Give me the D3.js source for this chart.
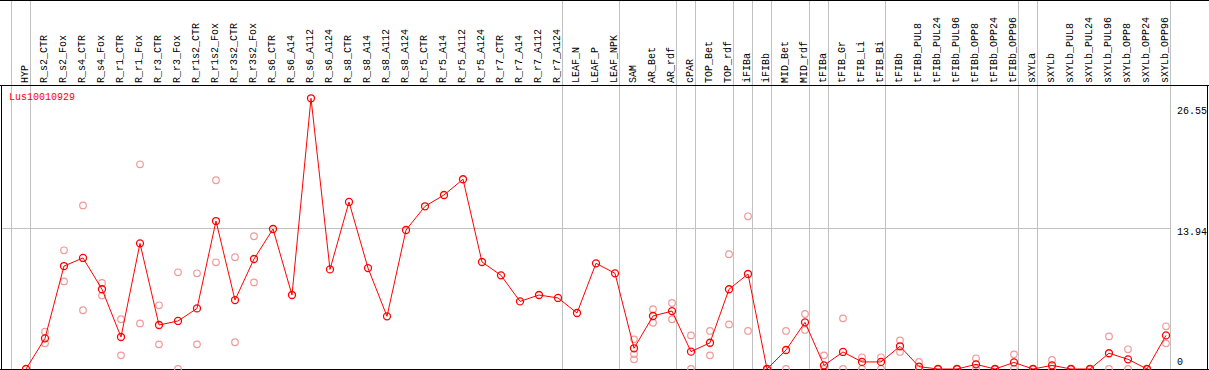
<!DOCTYPE html>
<html>
<head>
<meta charset="utf-8">
<script src="https://cdn.jsdelivr.net/npm/d3@7"></script>
<style>
  body { margin: 0; background: #fff; }
  svg { display: block; }
</style>
</head>
<body>
<div id="chart-area"></div>
<script>
const geneName = "Lus10010929";

const categories = ["HYP",
  "R_s2_CTR", "R_s2_Fox", "R_s4_CTR", "R_s4_Fox", "R_r1_CTR", "R_r1_Fox", "R_r3_CTR", "R_r3_Fox",
  "R_r1s2_CTR", "R_r1s2_Fox", "R_r3s2_CTR", "R_r3s2_Fox",
  "R_s6_CTR", "R_s6_A14", "R_s6_A112", "R_s6_A124", "R_s8_CTR", "R_s8_A14", "R_s8_A112", "R_s8_A124",
  "R_r5_CTR", "R_r5_A14", "R_r5_A112", "R_r5_A124", "R_r7_CTR", "R_r7_A14", "R_r7_A112", "R_r7_A124",
  "LEAF_N", "LEAF_P", "LEAF_NPK", "SAM", "AR_Bet", "AR_rdf", "cPAR", "TOP_Bet", "TOP_rdf",
  "iFIBa", "iFIBb", "MID_Bet", "MID_rdf", "tFIBa", "tFIB_Gr", "tFIB_Li", "tFIB_Bi",
  "tFIBb", "tFIBb_PUL8", "tFIBb_PUL24", "tFIBb_PUL96", "tFIBb_OPP8", "tFIBb_OPP24", "tFIBb_OPP96",
  "sXYLa", "sXYLb", "sXYLb_PUL8", "sXYLb_PUL24", "sXYLb_PUL96", "sXYLb_OPP8", "sXYLb_OPP24", "sXYLb_OPP96"];

// last column of each group (gray separator drawn after it)
const groupEnds = ["HYP", "R_r7_A124", "LEAF_NPK", "AR_rdf", "cPAR", "TOP_rdf", "iFIBa", "iFIBb",
  "MID_rdf", "tFIBa", "tFIB_Bi", "tFIBb_OPP96", "sXYLa", "sXYLb_OPP96"];

// mean values
const means = [0,
  3.04, 10.2, 11.0, 7.9, 3.17, 12.45, 4.36, 4.76,
  6.0, 14.66, 6.83, 10.9,
  13.87, 7.33, 26.82, 9.87, 16.55, 10.0, 5.22, 13.77,
  16.12, 17.24, 18.8, 10.6, 9.28, 6.7, 7.33, 7.04,
  5.55, 10.47, 9.48, 2.05, 5.25, 5.74, 1.72, 2.6, 7.9,
  9.41, 0, 1.88, 4.62, 0.36, 1.69, 0.7, 0.7,
  2.25, 0.23, 0, 0, 0.46, 0, 0.65,
  0, 0.36, 0, 0, 1.56, 0.96, 0, 3.33];

// individual replicates
const replicates = [[],
  [3.7, 2.54], [11.76, 8.68], [16.21, 5.82], [8.52, 7.27], [4.93, 1.35], [20.28, 4.52], [6.31, 2.44], [9.58, 0],
  [9.48, 2.44], [18.7, 10.57], [11.07, 2.65], [13.15, 8.58],
  [], [], [], [], [], [], [], [],
  [], [], [], [], [], [], [], [],
  [], [], [], [2.94, 1.48, 0.96], [5.92, 4.58], [6.54, 4.93], [3.33, 0], [3.77, 1.35], [11.37, 4.42],
  [15.13, 3.77], [0, 0], [3.77, 0], [5.45, 3.87], [1.35, 0], [5.02, 0], [1.16, 0], [1.16, 0],
  [2.84, 1.69], [0.7, 0], [0, 0], [0, 0], [1.06, 0], [0, 0], [1.45, 0],
  [0, 0], [0.89, 0], [0, 0], [0, 0], [3.23, 0], [1.95, 0], [0, 0], [4.23, 2.54]];

const tickValues = [0, 13.94, 26.55];
const tickLabels = ["0", "13.94", "26.55"];
const tickDy = [-4, 7, 13];

const W = 1209, H = 370;
const headerH = 85, bottom = 369, plotRight = 1170, frameRight = 1207;

const svg = d3.select("#chart-area").append("svg")
    .attr("width", W)
    .attr("height", H)
    .style("font-family", "'Liberation Mono', 'DejaVu Sans Mono', monospace")
    .style("font-size", "10px");

const x = d3.scalePoint()
    .domain(categories)
    .range([26, 1166]);

const step = x.step();

const y = d3.scaleLinear()
    .domain([0, 13.94])
    .range([bottom, 228.3]);

// gray grid
const grid = svg.append("g")
    .attr("stroke", "#c0c0c0")
    .attr("stroke-width", 1)
    .attr("shape-rendering", "crispEdges");

const sepX = [x(categories[0]) - step + 4].concat(groupEnds.map(c => x(c) + 4));

grid.selectAll("line.sep")
    .data(sepX).enter()
    .append("line")
        .attr("class", "sep")
        .attr("x1", d => Math.round(d) + 0.5)
        .attr("x2", d => Math.round(d) + 0.5)
        .attr("y1", 0)
        .attr("y2", bottom);

grid.append("line")
    .attr("x1", 1)
    .attr("x2", plotRight)
    .attr("y1", Math.round(y(13.94)) + 0.5)
    .attr("y2", Math.round(y(13.94)) + 0.5);

// column labels
svg.append("g").selectAll("text")
    .data(categories).enter()
    .append("text")
        .attr("transform", d => `translate(${x(d) + 2},83) rotate(-90)`)
        .attr("fill", "#000")
        .text(d => d);

// frame
const frame = svg.append("g")
    .attr("stroke", "#000")
    .attr("shape-rendering", "crispEdges");
frame.append("line").attr("x1", 0).attr("x2", W).attr("y1", 0.5).attr("y2", 0.5);
frame.append("line").attr("x1", 0).attr("x2", W).attr("y1", headerH + 0.5).attr("y2", headerH + 0.5);
frame.append("line").attr("x1", 0).attr("x2", W).attr("y1", bottom + 0.5).attr("y2", bottom + 0.5);
frame.append("line").attr("x1", 1.5).attr("x2", 1.5).attr("y1", headerH).attr("y2", H);
frame.append("line").attr("x1", frameRight + 0.5).attr("x2", frameRight + 0.5).attr("y1", headerH).attr("y2", H);

// replicate points
const repPoints = [];
replicates.forEach((reps, i) => {
    reps.forEach(v => repPoints.push({ cat: categories[i], v: v }));
});

svg.append("g").selectAll("circle")
    .data(repPoints).enter()
    .append("circle")
        .attr("cx", d => x(d.cat))
        .attr("cy", d => y(d.v))
        .attr("r", 3.3)
        .attr("fill", "none")
        .attr("stroke", "#f09a9a")
        .attr("stroke-width", 1.2);

// mean line
const line = d3.line()
    .x((d, i) => x(categories[i]))
    .y(d => y(d));

svg.append("path")
    .datum(means)
    .attr("d", line)
    .attr("fill", "none")
    .attr("stroke", "#ff0000")
    .attr("stroke-width", 1);

svg.append("g").selectAll("circle")
    .data(means).enter()
    .append("circle")
        .attr("cx", (d, i) => x(categories[i]))
        .attr("cy", d => y(d))
        .attr("r", 3.5)
        .attr("fill", "none")
        .attr("stroke", "#ff0000")
        .attr("stroke-width", 1.3);

// title
svg.append("text")
    .attr("x", 9)
    .attr("y", 100)
    .attr("fill", "#ff0000")
    .text(geneName);

// value labels on right
svg.append("g").selectAll("text")
    .data(tickValues).enter()
    .append("text")
        .attr("x", 1177)
        .attr("y", (d, i) => y(d) + tickDy[i])
        .attr("fill", "#000")
        .text((d, i) => tickLabels[i]);
</script>
</body>
</html>
